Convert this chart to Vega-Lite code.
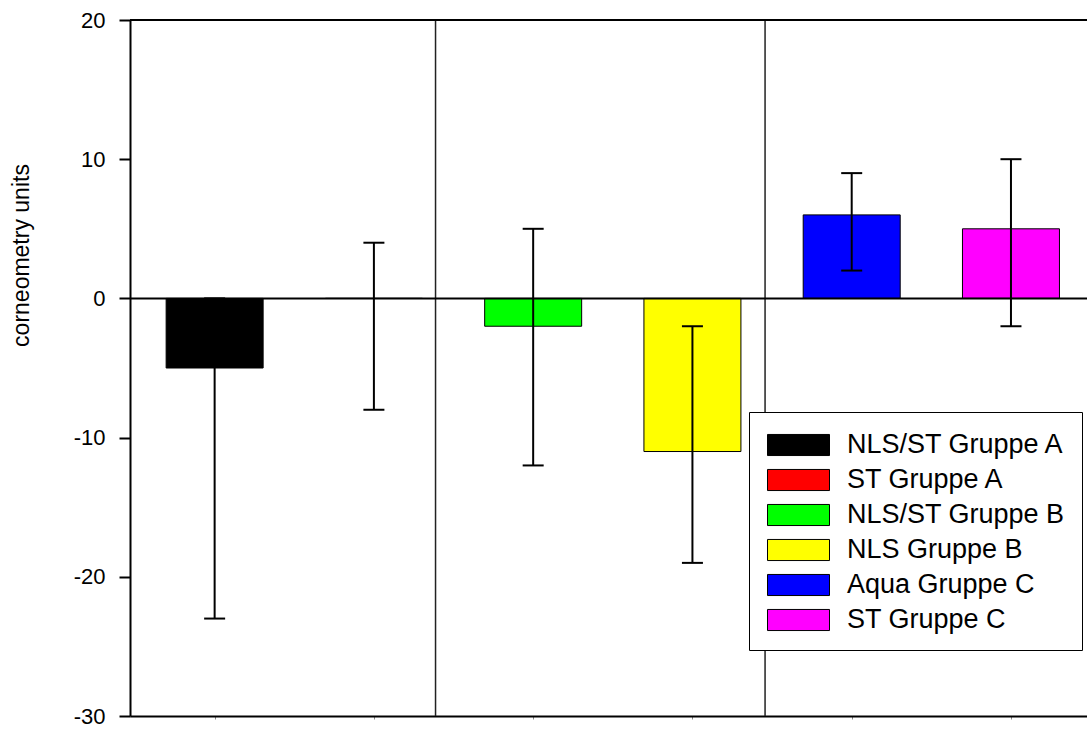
{
  "$schema": "https://vega.github.io/schema/vega-lite/v6.json",
  "width": 957,
  "height": 696,
  "autosize": {"type": "none"},
  "padding": {"left": 130, "top": 20, "right": 0, "bottom": 15},
  "background": "white",
  "config": {"view": {"stroke": null}, "font": "Liberation Sans"},
  "datasets": {
    "bars": [
      {"group": "NLS/ST Gruppe A", "pos": 1, "value": -5, "lower": -23, "upper": 0},
      {"group": "ST Gruppe A", "pos": 2, "value": 0, "lower": -8, "upper": 4},
      {"group": "NLS/ST Gruppe B", "pos": 3, "value": -2, "lower": -12, "upper": 5},
      {"group": "NLS Gruppe B", "pos": 4, "value": -11, "lower": -19, "upper": -2},
      {"group": "Aqua Gruppe C", "pos": 5, "value": 6, "lower": 2, "upper": 9},
      {"group": "ST Gruppe C", "pos": 6, "value": 5, "lower": -2, "upper": 10}
    ],
    "separators": [{"sep": 2.387}, {"sep": 4.456}],
    "lines": [{"level": 0}, {"level": 20}]
  },
  "layer": [
    {
      "data": {"name": "bars"},
      "mark": {"type": "bar", "width": 97, "stroke": "black", "strokeWidth": 1},
      "encoding": {
        "x": {
          "field": "pos",
          "type": "quantitative",
          "scale": {"domain": [0.5, 6.446], "nice": false, "zero": false},
          "axis": {
            "values": [1, 2, 3, 4, 5, 6],
            "labels": false,
            "title": null,
            "grid": false,
            "tickSize": 3,
            "tickColor": "#888888",
            "domainColor": "black",
            "domainWidth": 2
          }
        },
        "y": {
          "field": "value",
          "type": "quantitative",
          "scale": {"domain": [-30, 20], "nice": false},
          "axis": {
            "values": [-30, -20, -10, 0, 10, 20],
            "labelExpr": "'' + datum.value",
            "grid": false,
            "title": "corneometry units",
            "titleFontSize": 23,
            "titleFontWeight": "normal",
            "titleColor": "black",
            "titleX": -97,
            "titleY": 235,
            "labelFontSize": 22,
            "labelColor": "black",
            "labelPadding": 14,
            "tickSize": 11,
            "tickWidth": 2,
            "tickColor": "black",
            "domainColor": "black",
            "domainWidth": 2
          }
        },
        "color": {
          "field": "group",
          "type": "nominal",
          "sort": null,
          "scale": {
            "domain": ["NLS/ST Gruppe A", "ST Gruppe A", "NLS/ST Gruppe B", "NLS Gruppe B", "Aqua Gruppe C", "ST Gruppe C"],
            "range": ["#000000", "#ff0000", "#00ff00", "#ffff00", "#0000ff", "#ff00ff"]
          },
          "legend": {
            "orient": "none",
            "legendX": 619,
            "legendY": 392,
            "title": null,
            "symbolType": "M-0.935,-0.68H3.065V0.68H-0.935Z",
            "symbolSize": 961,
            "symbolStrokeColor": "black",
            "symbolStrokeWidth": 1,
            "symbolOpacity": 1,
            "labelFontSize": 27,
            "labelLimit": 400,
            "labelColor": "black",
            "labelOffset": 49,
            "padding": 17,
            "rowPadding": 6,
            "strokeColor": "black",
            "fillColor": "white"
          }
        }
      }
    },
    {
      "data": {"name": "separators"},
      "mark": {"type": "rule", "color": "#222222", "strokeWidth": 1.5},
      "encoding": {"x": {"field": "sep", "type": "quantitative"}}
    },
    {
      "data": {"name": "lines"},
      "mark": {"type": "rule", "color": "black", "strokeWidth": 2},
      "encoding": {"y": {"field": "level", "type": "quantitative"}}
    },
    {
      "data": {"name": "bars"},
      "mark": {"type": "rule", "color": "black", "strokeWidth": 2},
      "encoding": {
        "x": {"field": "pos", "type": "quantitative"},
        "y": {"field": "lower", "type": "quantitative"},
        "y2": {"field": "upper"}
      }
    },
    {
      "data": {"name": "bars"},
      "mark": {"type": "tick", "orient": "horizontal", "size": 21, "thickness": 2, "color": "black", "opacity": 1},
      "encoding": {
        "x": {"field": "pos", "type": "quantitative"},
        "y": {"field": "upper", "type": "quantitative"}
      }
    },
    {
      "data": {"name": "bars"},
      "mark": {"type": "tick", "orient": "horizontal", "size": 21, "thickness": 2, "color": "black", "opacity": 1},
      "encoding": {
        "x": {"field": "pos", "type": "quantitative"},
        "y": {"field": "lower", "type": "quantitative"}
      }
    }
  ]
}
